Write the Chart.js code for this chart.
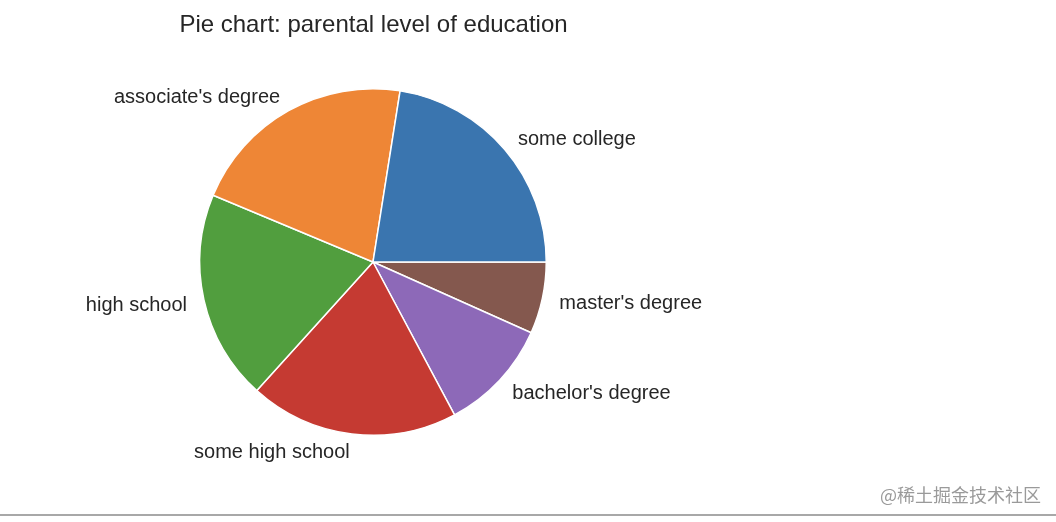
<!DOCTYPE html>
<html>
<head>
<meta charset="utf-8">
<script src="https://cdn.jsdelivr.net/npm/chart.js@4"></script>
<style>
  html, body { margin: 0; padding: 0; background: #fff; }
  #wrap { position: relative; width: 1056px; height: 522px; }
  #title { position: absolute; left: 0; width: 747px; top: 10px; text-align: center;
           font: 24px "Liberation Sans", Arial, sans-serif; color: #262626; }
  #mark { position: absolute; right: 15px; top: 481px;
          font: 18px "Noto Sans CJK SC", sans-serif; color: #9a9a9a; }
  #rule { position: absolute; left: 0; top: 514px; width: 1056px; height: 2px; background: #a8a8a8; }
</style>
</head>
<body>
<div id="wrap">
  <canvas id="pieChart" width="1056" height="522"></canvas>
  <div id="title">Pie chart: parental level of education</div>
  <div id="mark">@稀土掘金技术社区</div>
  <div id="rule"></div>
</div>
<script>
// data (matplotlib order, counterclockwise from 3 o'clock)
var categories = ["some college", "associate's degree", "high school", "some high school", "bachelor's degree", "master's degree"];
var counts = [225, 212, 196, 195, 105, 67];
var colors = ["#3a75af", "#ee8636", "#519e3e", "#c53a32", "#8d69b8", "#84584e"];

// chart.js draws clockwise, so reverse the order and start at 3 o'clock
var labelsCw = categories.slice().reverse();
var countsCw = counts.slice().reverse();
var colorsCw = colors.slice().reverse();

// outside labels like matplotlib (1.1 * radius, left/right aligned)
var outsideLabels = {
    id: "outsideLabels",
    afterDatasetsDraw: function (chart) {
        var ctx = chart.ctx;
        var meta = chart.getDatasetMeta(0);
        ctx.save();
        ctx.font = '20px "Liberation Sans", Arial, sans-serif';
        ctx.fillStyle = "#262626";
        ctx.textBaseline = "middle";
        meta.data.forEach(function (arc, i) {
            var mid = (arc.startAngle + arc.endAngle) / 2;
            var r = arc.outerRadius * 1.1;
            var x = arc.x + r * Math.cos(mid);
            var y = arc.y + r * Math.sin(mid) + 1.5;
            ctx.textAlign = Math.cos(mid) >= 0 ? "left" : "right";
            ctx.fillText(chart.data.labels[i], x, y);
        });
        ctx.restore();
    }
};

var ctx = document.getElementById("pieChart").getContext("2d");
var myChart = new Chart(ctx, {
    type: "pie",
    data: {
        labels: labelsCw,
        datasets: [
            {
                data: countsCw,
                backgroundColor: colorsCw,
                borderColor: "#ffffff",
                borderWidth: 1.5,
            },
        ],
    },
    options: {
        responsive: false,
        animation: false,
        rotation: 90,
        layout: {
            padding: { left: 199, right: 509, top: 88, bottom: 86 },
        },
        plugins: {
            legend: false,
            tooltip: { enabled: false },
        },
    },
    plugins: [outsideLabels],
});
</script>
</body>
</html>
